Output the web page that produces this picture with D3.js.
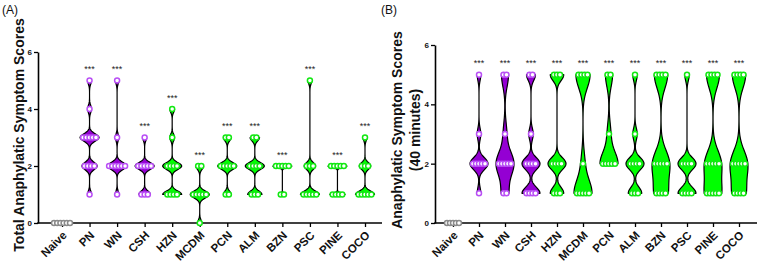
<!DOCTYPE html>
<html><head><meta charset="utf-8">
<script src="https://cdn.jsdelivr.net/npm/d3@7"></script>
<style>
body{margin:0;background:#fff}
svg{display:block;font-family:"Liberation Sans",Arial,Helvetica,sans-serif}
</style>
</head><body>
<svg id="chart" width="760" height="270"></svg>
<script>
// ---------- data ----------
const categories = ["Naive","PN","WN","CSH","HZN","MCDM","PCN","ALM","BZN","PSC","PINE","COCO"];
const yTickValues = [0, 2, 4, 6];
const significance = ["", "***","***","***","***","***","***","***","***","***","***","***"];

// (A) Total anaphylatic symptom scores, one list of individual scores per group
const totalScores = [
  [0,0,0,0,0,0],
  [5,4,3,3,3,3,3,2,2,2,2,1],
  [5,3,2,2,2,2,2,2,1],
  [3,2,2,2,2,2,1,1,1],
  [4,3,2,2,2,2,1,1,1,1],
  [2,2,1,1,1,1,1,0],
  [3,3,2,2,2,2,2,1,1],
  [3,3,2,2,2,2,1,1,1],
  [2,2,2,2,2,1,1],
  [5,2,2,2,1,1,1,1,1],
  [2,2,2,2,2,1,1,1,1],
  [3,2,2,2,1,1,1,1,1]
];
// (B) Anaphylatic symptom scores at 40 minutes
const scores40min = [
  [0,0,0,0,0],
  [5,3,2,2,2,2,2,1],
  [5,5,3,2,2,2,2,2,1,1],
  [5,5,3,2,2,2,2,1,1,1,1],
  [5,5,5,2,2,2,2,1,1,1],
  [5,5,5,5,2,1,1,1,1,1],
  [5,5,3,2,2,2,2,2],
  [5,3,2,2,2,2,1,1,1],
  [5,5,5,5,2,2,2,2,2,1,1,1,1],
  [5,2,2,2,2,1,1,1,1],
  [5,5,5,5,2,2,2,2,2,1,1,1,1,1],
  [5,5,5,5,2,2,2,2,2,1,1,1,1]
];
// kernel smoothing (bandwidth, score units) of each violin
const smoothingA = [0, 0.13,0.13,0.12,0.12,0.12,0.12,0.12,0.05,0.12,0.05,0.12];
const smoothingB = [0, 0.2,0.4,0.2,0.2,0.45,0.4,0.2,0.45,0.2,0.45,0.45];

// ---------- styles ----------
const purpleGroups = ["PN","WN","CSH"];
const PURPLE = "#9400d3", PURPLE_DOT = "#b94ff5";
const GREEN = "#00ff00", GREEN_DOT = "#12e812";
const NAIVE_DOT = "#8a8a8a";

const svg = d3.select("#chart");

function drawPanel(cfg) {
  const g = svg.append("g");
  const y = d3.scaleLinear().domain([0, 6]).range(cfg.yRange);
  const x = d3.scalePoint().domain(categories).range(cfg.xRange);

  // violins
  categories.forEach((cat, i) => {
    const vals = cfg.data[i];
    const lo = d3.min(vals), hi = d3.max(vals);
    const cx = x(cat);
    const fill = purpleGroups.includes(cat) ? PURPLE : GREEN;
    if (hi > lo) {
      const h = cfg.bw[i];
      const grid = d3.range(0, 161).map(k => lo + (hi - lo) * k / 160);
      const dens = grid.map(v => d3.sum(vals, xi => Math.exp(-0.5 * ((v - xi) / h) ** 2)));
      const dmax = d3.max(dens);
      const pts = grid.map((v, k) => ({v, w: cfg.maxHalf * dens[k] / dmax}));
      const area = d3.area()
        .y(d => y(d.v))
        .x0(d => cx - d.w)
        .x1(d => cx + d.w);
      g.append("path").datum(pts).attr("d", area)
        .attr("fill", fill).attr("stroke", "#000").attr("stroke-width", 1.2)
        .attr("stroke-linejoin", "round");
    }
  });

  // axes
  const ya = d3.axisLeft(y).tickValues(yTickValues).tickFormat(d3.format("d"))
    .tickSize(4).tickSizeOuter(0).tickPadding(2);
  const yg = g.append("g").attr("transform", `translate(${cfg.axisX[0]},0)`).call(ya);
  yg.select(".domain").attr("stroke-width", 1.6);
  yg.selectAll(".tick line").attr("stroke-width", 1.3);
  yg.selectAll("text").attr("font-size", 8).attr("font-weight", "bold").attr("fill", "#111");

  const xa = d3.axisBottom(x).tickSize(4).tickSizeOuter(0);
  const xg = g.append("g").attr("transform", `translate(0,${cfg.yRange[0]})`).call(xa);
  xg.select(".domain").remove();
  xg.selectAll(".tick line").attr("stroke-width", 1.3);
  xg.selectAll("text")
    .attr("x", 0).attr("y", 0).attr("dy", 0)
    .attr("transform", "translate(5,13) rotate(-45)")
    .attr("text-anchor", "end")
    .attr("font-size", 11.5).attr("font-weight", "bold").attr("fill", "#111");
  g.append("line")
    .attr("x1", cfg.axisX[0] - 0.8).attr("x2", cfg.axisX[1])
    .attr("y1", cfg.yRange[0]).attr("y2", cfg.yRange[0])
    .attr("stroke", "#000").attr("stroke-width", 1.6);

  // dots
  categories.forEach((cat, i) => {
    const vals = cfg.data[i];
    const cx = x(cat);
    const stroke = cat === "Naive" ? NAIVE_DOT : (purpleGroups.includes(cat) ? PURPLE_DOT : GREEN_DOT);
    const groups = d3.rollups(vals, v => v.length, d => d);
    groups.forEach(([val, n]) => {
      for (let k = 0; k < n; k++) {
        g.append("circle")
          .attr("cx", cx + (k - (n - 1) / 2) * cfg.dotGap)
          .attr("cy", y(val))
          .attr("r", 2.5)
          .attr("fill", "#fff").attr("stroke", stroke).attr("stroke-width", 1.5);
      }
    });
    if (significance[i]) {
      g.append("text").attr("x", cx).attr("y", y(d3.max(vals)) - 8.5)
        .attr("text-anchor", "middle").attr("font-size", 9).attr("fill", "#222")
        .text(significance[i]);
    }
  });

  // labels
  g.append("text").attr("x", cfg.tag[0]).attr("y", cfg.tag[1])
    .attr("font-size", 12).attr("fill", "#111").text(cfg.tagText);
  cfg.yLabel.forEach((line, k) => {
    g.append("text")
      .attr("transform", `translate(${cfg.yLabelX[k]},${cfg.yLabelY}) rotate(-90)`)
      .attr("text-anchor", "middle").attr("font-size", 14).attr("font-weight", "bold")
      .attr("fill", "#111").text(line);
  });
}

drawPanel({
  data: totalScores, bw: smoothingA,
  yRange: [223, 52], xRange: [62, 365], axisX: [38, 382],
  maxHalf: 9.5, dotGap: 3.2,
  tag: [2, 14], tagText: "(A)",
  yLabel: ["Total Anaphylatic Symptom Scores"], yLabelX: [24], yLabelY: 135
});
drawPanel({
  data: scores40min, bw: smoothingB,
  yRange: [223, 45], xRange: [453, 739], axisX: [435, 757],
  maxHalf: 9, dotGap: 3.0,
  tag: [381, 14], tagText: "(B)",
  yLabel: ["Anaphylatic Symptom Scores", "(40 minutes)"], yLabelX: [402, 420], yLabelY: 130
});
</script>
</body></html>
